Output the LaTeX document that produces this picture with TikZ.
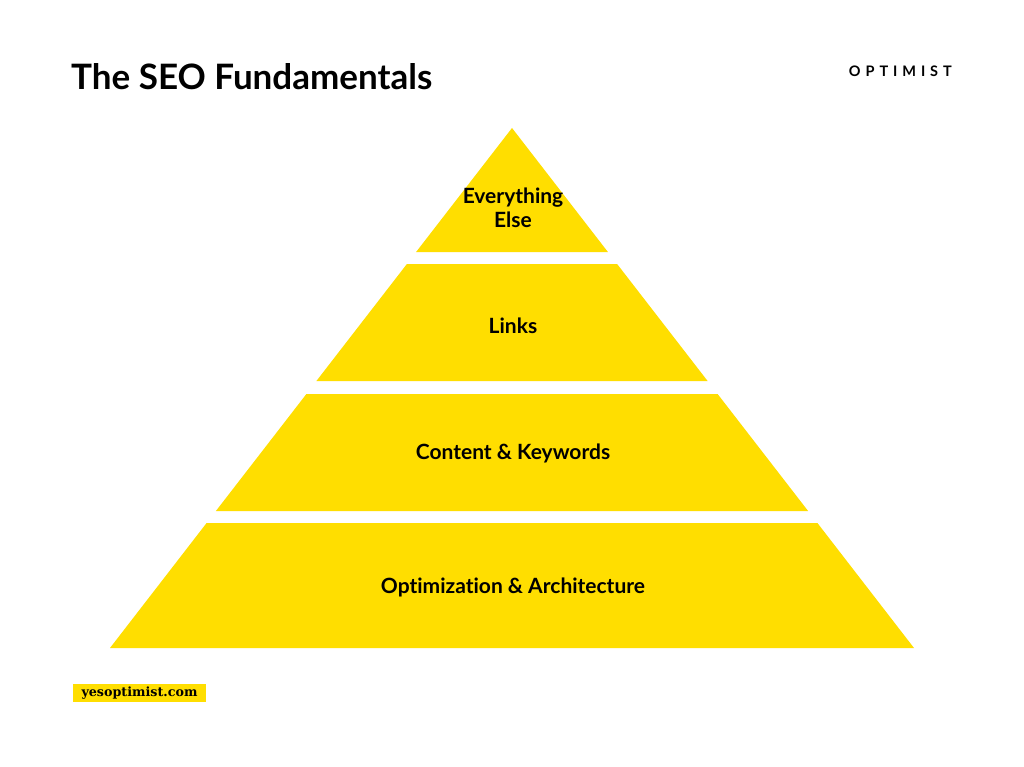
\documentclass[tikz,border=0pt]{standalone}
\usepackage{fontspec}
\setmainfont[Ligatures=CommonOff]{Lato}
\newfontfamily\footfont{DejaVu Serif}
\definecolor{seoyellow}{HTML}{FFDE00}
\begin{document}
\begin{tikzpicture}[x=1pt,y=-1pt,
  tier/.style={fill=seoyellow,draw=none},
  tierlabel/.style={font=\fontsize{21}{24}\selectfont\bfseries,align=center,text=black,inner sep=0pt},
]
\useasboundingbox[fill=white] (0,0) rectangle (1024,767);
% title
\node[anchor=base west,inner sep=0pt,font=\fontsize{35}{38}\selectfont\bfseries] (title) at (71,90) {The SEO Fundamentals};
\node[anchor=base east,inner sep=0pt,font=\fontsize{14.5}{16}\selectfont\bfseries\addfontfeatures{LetterSpace=34}] (logo) at (952,77) {OPTIMIST};
% pyramid tiers
\path[tier] (512,128) -- (607.9,252) -- (416.1,252) -- cycle;
\path[tier] (406.9,264) -- (617.1,264) -- (707.6,381) -- (316.4,381) -- cycle;
\path[tier] (306.4,394) -- (717.6,394) -- (808.1,511) -- (215.9,511) -- cycle;
\path[tier] (206.6,523) -- (817.4,523) -- (914,648) -- (110,648) -- cycle;
% labels
\node[tierlabel] (t1) at (513,208) {Everything\\Else};
\node[tierlabel] (t2) at (513,326) {Links};
\node[tierlabel] (t3) at (513,453) {Content \& Keywords};
\node[tierlabel] (t4) at (513,587) {Optimization \& Architecture};
% footer
\node[fill=seoyellow,minimum width=133pt,minimum height=18pt,inner sep=0pt,font=\footfont\fontsize{12.7}{14}\selectfont\bfseries] (site) at (139.5,693) {yesoptimist.com};
\end{tikzpicture}
\end{document}
